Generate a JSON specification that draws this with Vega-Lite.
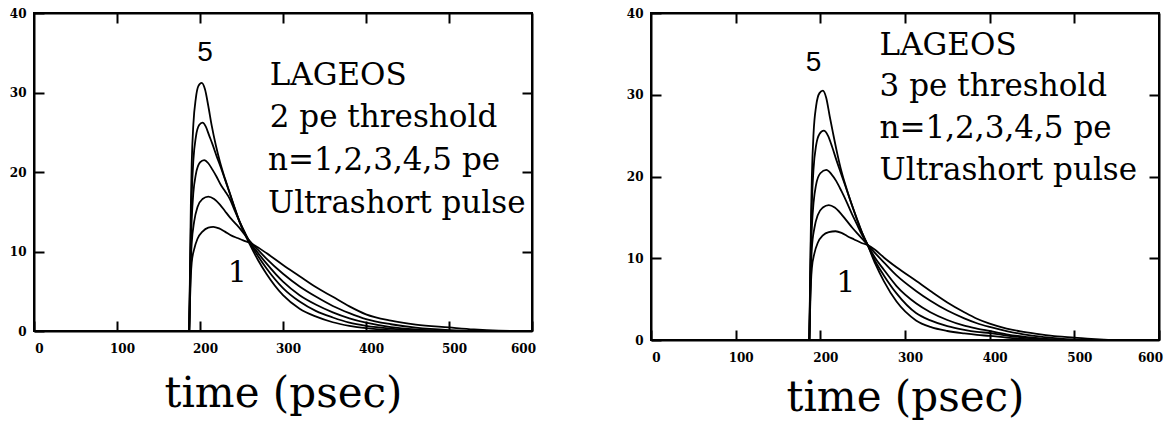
{
  "$schema": "https://vega.github.io/schema/vega-lite/v6.json",
  "background": "white",
  "padding": {"left": 8, "top": 6, "right": 2, "bottom": 5},
  "spacing": 88,
  "config": {
    "view": {"stroke": "black", "strokeWidth": 2},
    "axis": {
      "labelFont": "DejaVu Serif", "labelFontWeight": "bold", "labelFontSize": 12, "labelColor": "black",
      "domainColor": "black", "domainWidth": 2, "tickColor": "black", "tickWidth": 2, "grid": false,
      "titleFont": "DejaVu Serif", "titleFontWeight": "normal", "titleColor": "black"
    }
  },
  "datasets": {
    "left": [
      {"n":5,"t":187,"v":0},{"n":5,"t":188,"v":8},{"n":5,"t":189,"v":16},{"n":5,"t":190,"v":21},{"n":5,"t":192,"v":26},{"n":5,"t":195,"v":29.3},{"n":5,"t":198,"v":30.8},{"n":5,"t":202,"v":31.2},{"n":5,"t":206,"v":30.4},{"n":5,"t":210,"v":28.3},{"n":5,"t":214,"v":25.9},{"n":5,"t":219,"v":23.4},{"n":5,"t":224,"v":21.3},{"n":5,"t":230,"v":19.2},{"n":5,"t":236,"v":17.3},{"n":5,"t":242,"v":15.4},{"n":5,"t":248,"v":13.6},{"n":5,"t":254,"v":12.2},{"n":5,"t":260,"v":10.9},{"n":5,"t":270,"v":8.9},{"n":5,"t":280,"v":7.2},{"n":5,"t":300,"v":4.5},{"n":5,"t":320,"v":2.8},{"n":5,"t":340,"v":1.8},{"n":5,"t":360,"v":1.1},{"n":5,"t":380,"v":0.65},{"n":5,"t":400,"v":0.35},{"n":5,"t":430,"v":0.12},{"n":5,"t":460,"v":0.02},{"n":5,"t":480,"v":0},
      {"n":4,"t":187,"v":0},{"n":4,"t":188,"v":7},{"n":4,"t":189,"v":13},{"n":4,"t":190,"v":17},{"n":4,"t":192,"v":21.5},{"n":4,"t":195,"v":24.4},{"n":4,"t":199,"v":25.9},{"n":4,"t":203,"v":26.2},{"n":4,"t":207,"v":25.7},{"n":4,"t":211,"v":24.6},{"n":4,"t":215,"v":23.5},{"n":4,"t":220,"v":22.0},{"n":4,"t":225,"v":20.6},{"n":4,"t":230,"v":19.1},{"n":4,"t":236,"v":17.3},{"n":4,"t":242,"v":15.4},{"n":4,"t":248,"v":13.7},{"n":4,"t":254,"v":12.3},{"n":4,"t":260,"v":11.1},{"n":4,"t":270,"v":9.4},{"n":4,"t":280,"v":7.9},{"n":4,"t":300,"v":5.4},{"n":4,"t":320,"v":3.7},{"n":4,"t":340,"v":2.5},{"n":4,"t":360,"v":1.7},{"n":4,"t":380,"v":1.05},{"n":4,"t":400,"v":0.65},{"n":4,"t":430,"v":0.3},{"n":4,"t":460,"v":0.1},{"n":4,"t":490,"v":0},
      {"n":3,"t":187,"v":0},{"n":3,"t":188,"v":6},{"n":3,"t":189,"v":11},{"n":3,"t":190,"v":14},{"n":3,"t":192,"v":17.4},{"n":3,"t":195,"v":19.7},{"n":3,"t":200,"v":21.2},{"n":3,"t":205,"v":21.5},{"n":3,"t":210,"v":21.1},{"n":3,"t":215,"v":20.3},{"n":3,"t":220,"v":19.4},{"n":3,"t":225,"v":18.4},{"n":3,"t":230,"v":17.6},{"n":3,"t":236,"v":16.6},{"n":3,"t":242,"v":15.1},{"n":3,"t":248,"v":13.7},{"n":3,"t":254,"v":12.4},{"n":3,"t":260,"v":11.2},{"n":3,"t":270,"v":9.8},{"n":3,"t":280,"v":8.5},{"n":3,"t":300,"v":6.2},{"n":3,"t":320,"v":4.5},{"n":3,"t":340,"v":3.3},{"n":3,"t":360,"v":2.35},{"n":3,"t":380,"v":1.6},{"n":3,"t":400,"v":1.05},{"n":3,"t":430,"v":0.5},{"n":3,"t":460,"v":0.2},{"n":3,"t":500,"v":0.03},{"n":3,"t":520,"v":0},
      {"n":2,"t":187,"v":0},{"n":2,"t":188,"v":5},{"n":2,"t":189,"v":9},{"n":2,"t":190,"v":11},{"n":2,"t":193,"v":13.8},{"n":2,"t":197,"v":15.6},{"n":2,"t":203,"v":16.6},{"n":2,"t":210,"v":16.9},{"n":2,"t":217,"v":16.6},{"n":2,"t":224,"v":15.9},{"n":2,"t":230,"v":15.1},{"n":2,"t":236,"v":14.3},{"n":2,"t":242,"v":13.6},{"n":2,"t":248,"v":12.9},{"n":2,"t":254,"v":12.1},{"n":2,"t":260,"v":11.3},{"n":2,"t":270,"v":10.2},{"n":2,"t":280,"v":9.1},{"n":2,"t":300,"v":7.2},{"n":2,"t":320,"v":5.6},{"n":2,"t":340,"v":4.3},{"n":2,"t":360,"v":3.15},{"n":2,"t":380,"v":2.25},{"n":2,"t":400,"v":1.5},{"n":2,"t":430,"v":0.85},{"n":2,"t":460,"v":0.42},{"n":2,"t":500,"v":0.12},{"n":2,"t":530,"v":0.02},{"n":2,"t":545,"v":0},
      {"n":1,"t":187,"v":0},{"n":1,"t":188,"v":4},{"n":1,"t":189,"v":7},{"n":1,"t":190,"v":8.6},{"n":1,"t":193,"v":10.3},{"n":1,"t":197,"v":11.6},{"n":1,"t":203,"v":12.5},{"n":1,"t":210,"v":13.0},{"n":1,"t":216,"v":13.1},{"n":1,"t":223,"v":12.9},{"n":1,"t":230,"v":12.5},{"n":1,"t":238,"v":12.0},{"n":1,"t":245,"v":11.7},{"n":1,"t":252,"v":11.4},{"n":1,"t":260,"v":11.1},{"n":1,"t":270,"v":10.5},{"n":1,"t":280,"v":9.8},{"n":1,"t":300,"v":8.3},{"n":1,"t":320,"v":6.9},{"n":1,"t":340,"v":5.5},{"n":1,"t":360,"v":4.3},{"n":1,"t":380,"v":3.1},{"n":1,"t":400,"v":2.1},{"n":1,"t":430,"v":1.3},{"n":1,"t":460,"v":0.8},{"n":1,"t":500,"v":0.45},{"n":1,"t":530,"v":0.2},{"n":1,"t":560,"v":0.04},{"n":1,"t":575,"v":0}
    ],
    "right": [
      {"n":5,"t":187,"v":0},{"n":5,"t":188,"v":8},{"n":5,"t":189,"v":15},{"n":5,"t":190,"v":20},{"n":5,"t":192,"v":25.3},{"n":5,"t":195,"v":28.6},{"n":5,"t":199,"v":30.2},{"n":5,"t":203,"v":30.5},{"n":5,"t":207,"v":29.6},{"n":5,"t":211,"v":27.4},{"n":5,"t":215,"v":25.3},{"n":5,"t":220,"v":22.8},{"n":5,"t":225,"v":20.6},{"n":5,"t":231,"v":18.5},{"n":5,"t":237,"v":16.6},{"n":5,"t":243,"v":14.8},{"n":5,"t":249,"v":13.2},{"n":5,"t":256,"v":11.6},{"n":5,"t":265,"v":9.3},{"n":5,"t":275,"v":7.2},{"n":5,"t":290,"v":4.7},{"n":5,"t":313,"v":2.4},{"n":5,"t":330,"v":1.6},{"n":5,"t":350,"v":1.1},{"n":5,"t":370,"v":0.8},{"n":5,"t":385,"v":0.62},{"n":5,"t":400,"v":0.5},{"n":5,"t":420,"v":0.3},{"n":5,"t":440,"v":0.15},{"n":5,"t":460,"v":0.05},{"n":5,"t":475,"v":0},
      {"n":4,"t":187,"v":0},{"n":4,"t":188,"v":7},{"n":4,"t":189,"v":13},{"n":4,"t":190,"v":16.8},{"n":4,"t":192,"v":21},{"n":4,"t":195,"v":23.8},{"n":4,"t":199,"v":25.2},{"n":4,"t":204,"v":25.6},{"n":4,"t":209,"v":25.0},{"n":4,"t":214,"v":23.6},{"n":4,"t":219,"v":22.0},{"n":4,"t":225,"v":20.2},{"n":4,"t":231,"v":18.4},{"n":4,"t":237,"v":16.6},{"n":4,"t":243,"v":14.9},{"n":4,"t":249,"v":13.2},{"n":4,"t":256,"v":11.6},{"n":4,"t":265,"v":9.6},{"n":4,"t":275,"v":7.9},{"n":4,"t":290,"v":5.7},{"n":4,"t":313,"v":3.3},{"n":4,"t":330,"v":2.4},{"n":4,"t":350,"v":1.7},{"n":4,"t":370,"v":1.25},{"n":4,"t":385,"v":1.0},{"n":4,"t":400,"v":0.85},{"n":4,"t":420,"v":0.55},{"n":4,"t":440,"v":0.3},{"n":4,"t":460,"v":0.12},{"n":4,"t":480,"v":0.03},{"n":4,"t":490,"v":0},
      {"n":3,"t":187,"v":0},{"n":3,"t":188,"v":6},{"n":3,"t":189,"v":11},{"n":3,"t":190,"v":13.8},{"n":3,"t":192,"v":16.8},{"n":3,"t":195,"v":19.0},{"n":3,"t":200,"v":20.4},{"n":3,"t":207,"v":20.8},{"n":3,"t":213,"v":20.3},{"n":3,"t":219,"v":19.4},{"n":3,"t":225,"v":18.2},{"n":3,"t":231,"v":16.9},{"n":3,"t":237,"v":15.5},{"n":3,"t":243,"v":14.2},{"n":3,"t":249,"v":12.9},{"n":3,"t":256,"v":11.6},{"n":3,"t":265,"v":10.0},{"n":3,"t":275,"v":8.6},{"n":3,"t":290,"v":6.6},{"n":3,"t":313,"v":4.5},{"n":3,"t":330,"v":3.4},{"n":3,"t":350,"v":2.45},{"n":3,"t":370,"v":1.75},{"n":3,"t":385,"v":1.4},{"n":3,"t":400,"v":1.1},{"n":3,"t":420,"v":0.7},{"n":3,"t":440,"v":0.4},{"n":3,"t":460,"v":0.2},{"n":3,"t":480,"v":0.06},{"n":3,"t":495,"v":0},
      {"n":2,"t":187,"v":0},{"n":2,"t":188,"v":5},{"n":2,"t":189,"v":9},{"n":2,"t":190,"v":11.2},{"n":2,"t":193,"v":13.7},{"n":2,"t":197,"v":15.3},{"n":2,"t":203,"v":16.2},{"n":2,"t":210,"v":16.5},{"n":2,"t":217,"v":16.2},{"n":2,"t":224,"v":15.5},{"n":2,"t":231,"v":14.6},{"n":2,"t":238,"v":13.7},{"n":2,"t":245,"v":12.9},{"n":2,"t":251,"v":12.2},{"n":2,"t":256,"v":11.6},{"n":2,"t":265,"v":10.6},{"n":2,"t":275,"v":9.5},{"n":2,"t":290,"v":7.9},{"n":2,"t":313,"v":6.0},{"n":2,"t":330,"v":4.8},{"n":2,"t":350,"v":3.6},{"n":2,"t":370,"v":2.65},{"n":2,"t":385,"v":2.05},{"n":2,"t":400,"v":1.6},{"n":2,"t":420,"v":1.1},{"n":2,"t":440,"v":0.7},{"n":2,"t":460,"v":0.4},{"n":2,"t":480,"v":0.2},{"n":2,"t":500,"v":0.06},{"n":2,"t":515,"v":0},
      {"n":1,"t":187,"v":0},{"n":1,"t":188,"v":4},{"n":1,"t":189,"v":7.2},{"n":1,"t":190,"v":8.8},{"n":1,"t":193,"v":10.6},{"n":1,"t":197,"v":11.9},{"n":1,"t":203,"v":12.8},{"n":1,"t":210,"v":13.2},{"n":1,"t":218,"v":13.3},{"n":1,"t":225,"v":13.1},{"n":1,"t":232,"v":12.7},{"n":1,"t":240,"v":12.3},{"n":1,"t":248,"v":11.9},{"n":1,"t":256,"v":11.6},{"n":1,"t":265,"v":11.0},{"n":1,"t":275,"v":10.1},{"n":1,"t":290,"v":8.9},{"n":1,"t":313,"v":7.25},{"n":1,"t":330,"v":6.0},{"n":1,"t":350,"v":4.6},{"n":1,"t":370,"v":3.4},{"n":1,"t":385,"v":2.6},{"n":1,"t":400,"v":2.0},{"n":1,"t":420,"v":1.4},{"n":1,"t":440,"v":1.0},{"n":1,"t":460,"v":0.7},{"n":1,"t":480,"v":0.45},{"n":1,"t":500,"v":0.3},{"n":1,"t":520,"v":0.12},{"n":1,"t":540,"v":0.02},{"n":1,"t":550,"v":0}
    ],
    "leftText": [
      {"label":"LAGEOS","x":284,"y":30.9},
      {"label":"2 pe threshold","x":284,"y":25.6},
      {"label":"n=1,2,3,4,5 pe","x":282,"y":20.25},
      {"label":"Ultrashort pulse","x":282,"y":14.8}
    ],
    "leftNums": [
      {"label":"5","x":206,"y":35.0},
      {"label":"1","x":245,"y":7.3}
    ],
    "rightText": [
      {"label":"LAGEOS","x":270,"y":34.9},
      {"label":"3 pe threshold","x":270,"y":29.8},
      {"label":"n=1,2,3,4,5 pe","x":270,"y":24.7},
      {"label":"Ultrashort pulse","x":270,"y":19.6}
    ],
    "rightNums": [
      {"label":"5","x":192,"y":33.9},
      {"label":"1","x":230,"y":7.0}
    ]
  },
  "hconcat": [
    {
      "width": 498, "height": 318,
      "layer": [
        {
          "data": {"name": "left"},
          "mark": {"type": "line", "stroke": "black", "strokeWidth": 1.8, "interpolate": "monotone"},
          "encoding": {
            "x": {"field": "t", "type": "quantitative", "scale": {"domain": [0, 600], "nice": false},
                  "axis": {"orient": "bottom", "values": [0,100,200,300,400,500,600], "tickSize": -10, "labelPadding": 22, "labelFlush": false, "labelOffset": {"condition": {"test": "datum.value == 600", "value": -9}, "value": 5}, "title": "time (psec)", "titleFontSize": 42, "titlePadding": 19}},
            "y": {"field": "v", "type": "quantitative", "scale": {"domain": [0, 40], "nice": false},
                  "axis": {"orient": "left", "values": [0,10,20,30,40], "tickSize": -10, "labelPadding": 18, "title": null}},
            "detail": {"field": "n"}
          }
        },
        {
          "data": {"name": "leftText"},
          "mark": {"type": "text", "align": "left", "baseline": "alphabetic", "font": "DejaVu Serif", "fontSize": 31, "color": "black"},
          "encoding": {
            "x": {"field": "x", "type": "quantitative", "scale": {"domain": [0, 600], "nice": false},
                  "axis": {"orient": "top", "values": [100,200,300,400,500], "tickSize": -10, "labels": false, "title": null}},
            "y": {"field": "y", "type": "quantitative", "scale": {"domain": [0, 40], "nice": false},
                  "axis": {"orient": "right", "values": [10,20,30], "tickSize": -10, "labels": false, "title": null}},
            "text": {"field": "label"}
          }
        },
        {
          "data": {"name": "leftNums"},
          "transform": [{"filter": "datum.label == '5'"}],
          "mark": {"type": "text", "align": "center", "baseline": "middle", "font": "Liberation Sans", "fontSize": 28, "color": "black"},
          "encoding": {
            "x": {"field": "x", "type": "quantitative", "axis": null},
            "y": {"field": "y", "type": "quantitative", "axis": null},
            "text": {"field": "label"}
          }
        },
        {
          "data": {"name": "leftNums"},
          "transform": [{"filter": "datum.label == '1'"}],
          "mark": {"type": "text", "align": "center", "baseline": "middle", "font": "DejaVu Serif", "fontSize": 30, "color": "black"},
          "encoding": {
            "x": {"field": "x", "type": "quantitative", "axis": null},
            "y": {"field": "y", "type": "quantitative", "axis": null},
            "text": {"field": "label"}
          }
        }
      ],
      "resolve": {"axis": {"x": "independent", "y": "independent"}}
    },
    {
      "width": 508, "height": 327,
      "layer": [
        {
          "data": {"name": "right"},
          "mark": {"type": "line", "stroke": "black", "strokeWidth": 1.8, "interpolate": "monotone"},
          "encoding": {
            "x": {"field": "t", "type": "quantitative", "scale": {"domain": [0, 600], "nice": false},
                  "axis": {"orient": "bottom", "values": [0,100,200,300,400,500,600], "tickSize": -10, "labelPadding": 22, "labelFlush": false, "labelOffset": {"condition": {"test": "datum.value == 600", "value": -9}, "value": 5}, "title": "time (psec)", "titleFontSize": 42, "titlePadding": 14}},
            "y": {"field": "v", "type": "quantitative", "scale": {"domain": [0, 40], "nice": false},
                  "axis": {"orient": "left", "values": [0,10,20,30,40], "tickSize": -10, "labelPadding": 18, "title": null}},
            "detail": {"field": "n"}
          }
        },
        {
          "data": {"name": "rightText"},
          "mark": {"type": "text", "align": "left", "baseline": "alphabetic", "font": "DejaVu Serif", "fontSize": 31, "color": "black"},
          "encoding": {
            "x": {"field": "x", "type": "quantitative", "scale": {"domain": [0, 600], "nice": false},
                  "axis": {"orient": "top", "values": [100,200,300,400,500], "tickSize": -10, "labels": false, "title": null}},
            "y": {"field": "y", "type": "quantitative", "scale": {"domain": [0, 40], "nice": false},
                  "axis": {"orient": "right", "values": [10,20,30], "tickSize": -10, "labels": false, "title": null}},
            "text": {"field": "label"}
          }
        },
        {
          "data": {"name": "rightNums"},
          "transform": [{"filter": "datum.label == '5'"}],
          "mark": {"type": "text", "align": "center", "baseline": "middle", "font": "Liberation Sans", "fontSize": 28, "color": "black"},
          "encoding": {
            "x": {"field": "x", "type": "quantitative", "axis": null},
            "y": {"field": "y", "type": "quantitative", "axis": null},
            "text": {"field": "label"}
          }
        },
        {
          "data": {"name": "rightNums"},
          "transform": [{"filter": "datum.label == '1'"}],
          "mark": {"type": "text", "align": "center", "baseline": "middle", "font": "DejaVu Serif", "fontSize": 30, "color": "black"},
          "encoding": {
            "x": {"field": "x", "type": "quantitative", "axis": null},
            "y": {"field": "y", "type": "quantitative", "axis": null},
            "text": {"field": "label"}
          }
        }
      ],
      "resolve": {"axis": {"x": "independent", "y": "independent"}}
    }
  ]
}
